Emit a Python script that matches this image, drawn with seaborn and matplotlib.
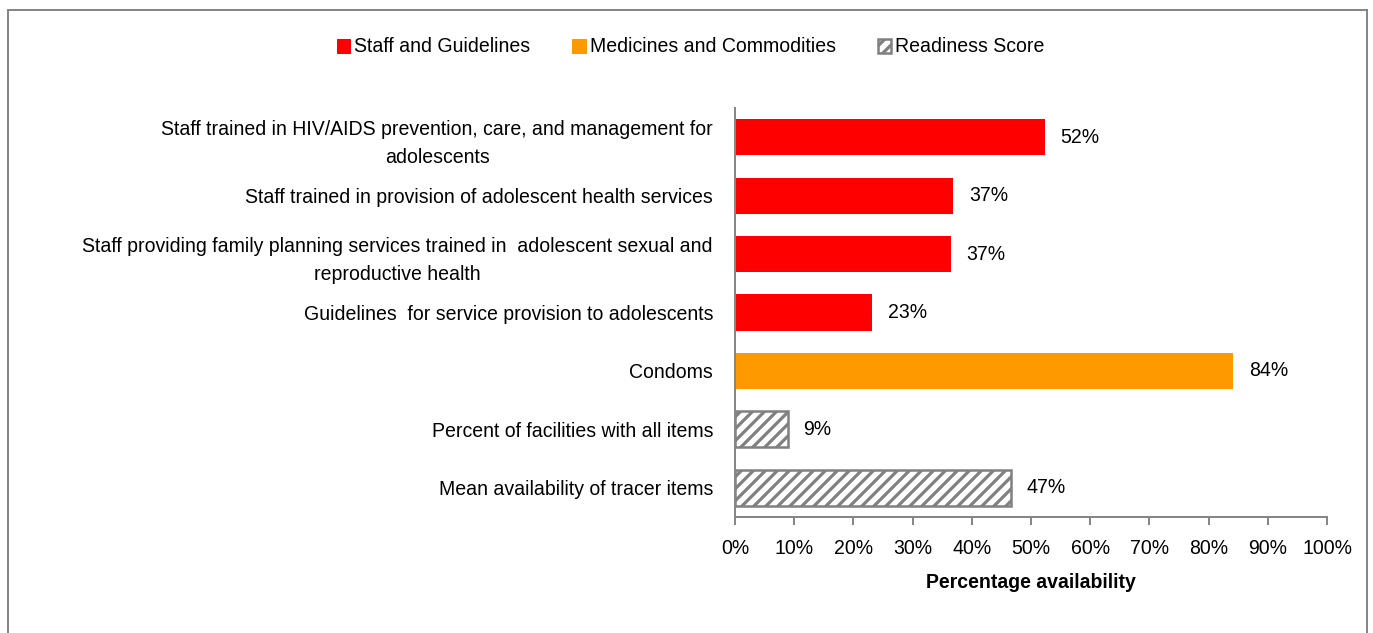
import matplotlib
matplotlib.use("Agg")
import matplotlib.pyplot as plt
import matplotlib.patches as mpatches
import seaborn as sns
import pandas as pd
from matplotlib.ticker import FuncFormatter, MultipleLocator

categories = [
    "Staff trained in HIV/AIDS prevention, care, and management for\nadolescents",
    "Staff trained in provision of adolescent health services",
    "Staff providing family planning services trained in  adolescent sexual and\nreproductive health",
    "Guidelines  for service provision to adolescents",
    "Condoms",
    "Percent of facilities with all items",
    "Mean availability of tracer items",
]
values = [52.4, 36.9, 36.5, 23.2, 84.2, 8.9, 46.6]
labels = ["52%", "37%", "37%", "23%", "84%", "9%", "47%"]
groups = ["Staff and Guidelines"] * 4 + ["Medicines and Commodities"] + ["Readiness Score"] * 2
group_order = ["Staff and Guidelines", "Medicines and Commodities", "Readiness Score"]
palette = {"Staff and Guidelines": "#ff0000", "Medicines and Commodities": "#ff9900", "Readiness Score": "#ffffff"}

sns.set_theme(style="white")
plt.rcParams["font.family"] = ["Liberation Sans", "DejaVu Sans"]
plt.rcParams["text.color"] = "black"
plt.rcParams["xtick.color"] = "black"
plt.rcParams["ytick.color"] = "black"
plt.rcParams["axes.labelcolor"] = "black"
plt.rcParams["hatch.color"] = "#808080"
plt.rcParams["hatch.linewidth"] = 3.2

FS = 19.5  # at 72 dpi, 1 pt = 1 px
DPI = 72

df = pd.DataFrame({"cat": categories, "val": values, "grp": groups})

fig = plt.figure(figsize=(1373 / DPI, 633 / DPI), dpi=DPI)
ax = fig.add_axes([735 / 1373, 1 - 517 / 633, (1327 - 735) / 1373, (517 - 108) / 633])

sns.barplot(data=df, y="cat", x="val", hue="grp", hue_order=group_order, palette=palette,
            dodge=False, width=0.62, ax=ax, legend=False, orient="h", saturation=1)

for p in ax.patches:
    fc = p.get_facecolor()
    if fc[0] > 0.99 and fc[1] > 0.99 and fc[2] > 0.99 and p.get_width() > 0:
        p.set_hatch("//")
        p.set_edgecolor("#808080")
        p.set_linewidth(2.5)
    else:
        p.set_linewidth(0)

for i, (v, lab) in enumerate(zip(values, labels)):
    ax.text(v + 2.6, i, lab, va="center", ha="left", fontsize=FS, color="black")

ax.set_xlim(0, 100)
ax.set_ylim(6.5, -0.5)
ax.xaxis.set_major_locator(MultipleLocator(10))
ax.xaxis.set_major_formatter(FuncFormatter(lambda x, _: f"{x:.0f}%"))
ax.set_xlabel("Percentage availability", fontsize=FS, fontweight="bold", labelpad=15)
ax.set_ylabel("")
ax.tick_params(axis="x", labelsize=FS, length=8, width=2, color="#868686", direction="out", pad=14, bottom=True)
ax.tick_params(axis="y", labelsize=FS, length=0, pad=22)
for lab in ax.get_yticklabels():
    lab.set_multialignment("center")
    lab.set_linespacing(1.6)
for s in ["top", "right"]:
    ax.spines[s].set_visible(False)
for s in ["left", "bottom"]:
    ax.spines[s].set_color("#868686")
    ax.spines[s].set_linewidth(2)

handles = [
    mpatches.Patch(facecolor="#ff0000", edgecolor="#ff0000", label="Staff and Guidelines"),
    mpatches.Patch(facecolor="#ff9900", edgecolor="#ff9900", label="Medicines and Commodities"),
    mpatches.Patch(facecolor="#ffffff", edgecolor="#808080", hatch="//", linewidth=2.5, label="Readiness Score"),
]
fig.legend(handles=handles, loc="center", bbox_to_anchor=(0.503, 1 - 47 / 633), ncol=3, frameon=False,
           fontsize=FS, handlelength=0.7, handleheight=0.7, handletextpad=0.2, columnspacing=2.15)

frame = mpatches.Rectangle((8 / 1373, -0.05), (1367 - 8) / 1373, 1.05 - 10 / 633, transform=fig.transFigure,
                           fill=False, edgecolor="#868686", linewidth=2, zorder=-1)
fig.patches.append(frame)

fig.savefig("out.png", dpi=DPI)
